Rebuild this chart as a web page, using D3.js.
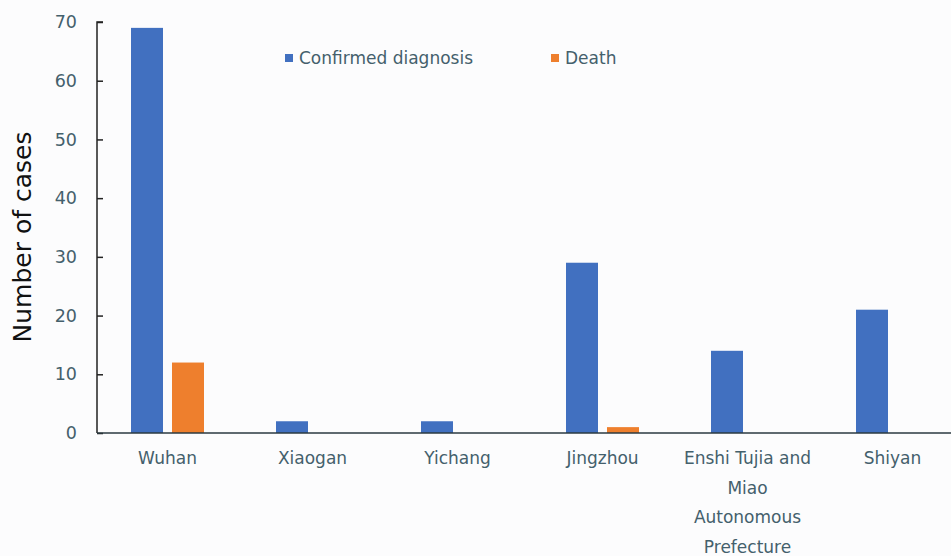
<!DOCTYPE html>
<html>
<head>
<meta charset="utf-8">
<script src="https://cdn.jsdelivr.net/npm/d3@7"></script>
<style>
  body { margin: 0; background: #fcfcfd; }
  text { font-family: "DejaVu Sans", sans-serif; }
</style>
</head>
<body>
<div id="main"></div>
<script>
// data
const cities = ['Wuhan', 'Xiaogan', 'Yichang', 'Jingzhou', 'Enshi Tujia and Miao Autonomous Prefecture', 'Shiyan'];
const confirmed = [69, 2, 2, 29, 14, 21];
const deaths = [12, 0, 0, 1, 0, 0];
const yTicks = [0, 10, 20, 30, 40, 50, 60, 70];
const seriesNames = ['Confirmed diagnosis', 'Death'];
const colors = ['#4170c0', '#ee7f2d'];

let w = 951;
let h = 556;
const padLeft = 97, padTop = 22, axisY = 433;

const svg = d3.select('div#main')
  .append('svg')
  .attr('width', w)
  .attr('height', h);

const x = d3.scaleBand().domain(cities).range([95, 965]);
const y = d3.scaleLinear().domain([0, 70]).range([axisY, padTop]);

// y axis
const yAxis = svg.append('g')
  .attr('transform', `translate(${padLeft},0)`)
  .call(d3.axisRight(y).tickValues(yTicks).tickSize(6).tickFormat(d3.format('d')));
yAxis.select('.domain').attr('stroke', '#222').attr('stroke-width', 1.5).attr('d', `M6,${padTop}H0V${axisY}`);
yAxis.selectAll('.tick line').attr('stroke', '#222').attr('stroke-width', 1.5);
yAxis.selectAll('.tick text')
  .attr('x', -20)
  .attr('text-anchor', 'end')
  .attr('fill', '#44606c')
  .style('font-size', '17.5px');

// bars
const barW = 32;
const groups = svg.append('g');
cities.forEach(function (c, i) {
  const cx = x(c) + x.bandwidth() / 2;
  [confirmed[i], deaths[i]].forEach(function (v, j) {
    if (v <= 0) return;
    groups.append('rect')
      .attr('x', j === 0 ? cx - 36.5 : cx + 4.5)
      .attr('y', y(v))
      .attr('width', barW)
      .attr('height', y(0) - y(v))
      .attr('fill', colors[j]);
  });
});

// x axis line
svg.append('line')
  .attr('x1', padLeft).attr('x2', w)
  .attr('y1', y(0)).attr('y2', y(0))
  .attr('stroke', '#2b3a40')
  .attr('stroke-width', 1.5);

// category labels (wrapped)
const wrapped = {
  'Enshi Tujia and Miao Autonomous Prefecture': ['Enshi Tujia and', 'Miao', 'Autonomous', 'Prefecture']
};
cities.forEach(function (c) {
  const lines = wrapped[c] || [c];
  const t = svg.append('text')
    .attr('x', x(c) + x.bandwidth() / 2)
    .attr('y', 464)
    .attr('text-anchor', 'middle')
    .attr('fill', '#44606c')
    .style('font-size', '17px');
  lines.forEach(function (l, k) {
    t.append('tspan')
      .attr('x', x(c) + x.bandwidth() / 2)
      .attr('dy', k === 0 ? 0 : 29.5)
      .text(l);
  });
});

// y label
svg.append('text')
  .attr('transform', 'translate(31,237) rotate(-90)')
  .attr('text-anchor', 'middle')
  .attr('fill', '#111')
  .style('font-size', '25px')
  .text('Number of cases');

// legend
const legendX = [285, 551];
seriesNames.forEach(function (s, i) {
  svg.append('rect')
    .attr('x', legendX[i]).attr('y', 54)
    .attr('width', 8).attr('height', 8)
    .attr('fill', colors[i]);
  svg.append('text')
    .attr('x', legendX[i] + 14)
    .attr('y', 64)
    .attr('fill', '#44606c')
    .style('font-size', '17px')
    .text(s);
});
</script>
</body>
</html>
